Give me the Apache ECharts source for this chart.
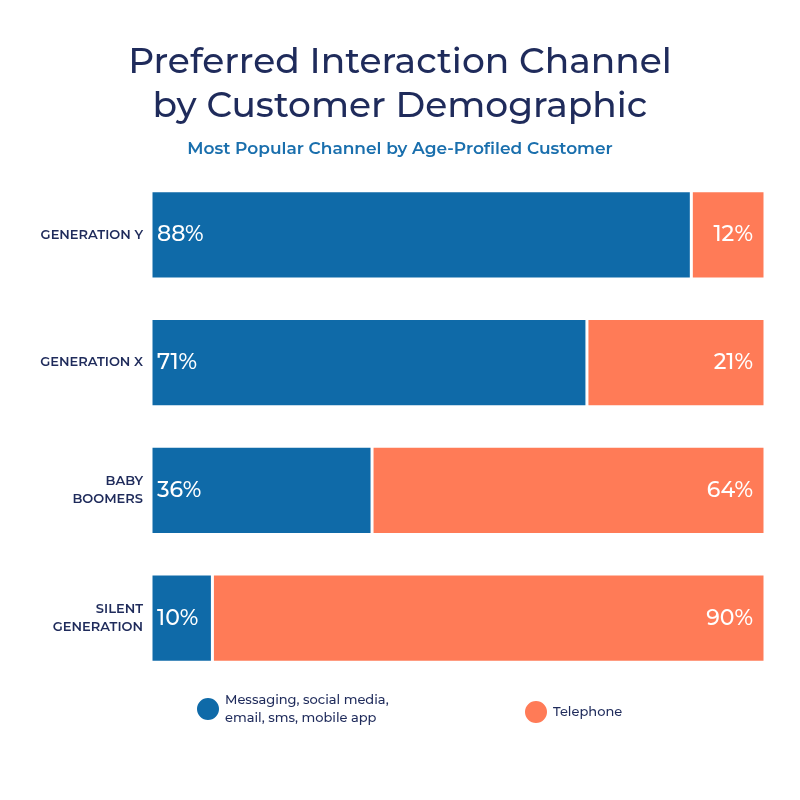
<!DOCTYPE html>
<html>
<head>
<meta charset="utf-8">
<script src="https://cdn.jsdelivr.net/npm/echarts@6/dist/echarts.min.js"></script>
<style>body{margin:0;background:#fff}#chart{width:800px;height:800px}</style>
</head>
<body>
<div id="chart"></div>
<script>
var categories = ['GENERATION Y', 'GENERATION X', 'BABY\nBOOMERS', 'SILENT\nGENERATION'];
var messaging = [88, 71, 36, 10];
// bar lengths as drawn in the picture (orange fills the rest of each bar)
var telephone = [12, 29, 64, 90];
// percentages printed on the orange bars
var telephoneLabels = [12, 21, 64, 90];

var myChart = echarts.init(document.getElementById('chart'));
var font = 'Montserrat, "Open Sans", sans-serif';
var option = {
    title: [{
        text: 'Preferred Interaction Channel\nby Customer Demographic',
        left: 'center',
        top: 35,
        textStyle: {fontSize: 36, fontWeight: 500, color: '#1f2b5b', lineHeight: 44, fontFamily: font}
    }, {
        text: 'Most Popular Channel by Age-Profiled Customer',
        left: 'center',
        top: 135,
        textStyle: {fontSize: 17, fontWeight: 600, color: '#1a6fad', fontFamily: font}
    }],
    legend: [{
        data: ['Messaging, social media,\nemail, sms, mobile app'],
        left: 190, top: 686,
        icon: 'circle', itemWidth: 24, itemHeight: 24, itemGap: 12,
        textStyle: {fontSize: 13, fontWeight: 500, color: '#1f2b5b', lineHeight: 18, fontFamily: font}
    }, {
        data: ['Telephone'],
        left: 518, top: 694,
        icon: 'circle', itemWidth: 24, itemHeight: 24,
        textStyle: {fontSize: 13, fontWeight: 500, color: '#1f2b5b', fontFamily: font}
    }],
    grid: {left: 151, right: 35, top: 171, bottom: 118},
    xAxis: {type: 'value', min: 0, max: 100, show: false},
    yAxis: {
        type: 'category',
        inverse: true,
        data: categories,
        axisLine: {show: false},
        axisTick: {show: false},
        axisLabel: {fontSize: 13, fontWeight: 600, color: '#1f2b5b', align: 'right', margin: 8, lineHeight: 18, fontFamily: font}
    },
    series: [{
        name: 'Messaging, social media,\nemail, sms, mobile app',
        type: 'bar',
        stack: 'total',
        data: messaging,
        barCategoryGap: '31%',
        itemStyle: {color: '#0f6aa8', borderColor: '#fff', borderWidth: 1.5},
        label: {show: true, position: 'insideLeft', formatter: '{c}%', color: '#fff', fontSize: 22, fontWeight: 500, fontFamily: font, distance: 6}
    }, {
        name: 'Telephone',
        type: 'bar',
        stack: 'total',
        data: telephone,
        itemStyle: {color: '#ff7b57', borderColor: '#fff', borderWidth: 1.5},
        label: {
            show: true, position: 'insideRight', color: '#fff', fontSize: 22, fontWeight: 500, fontFamily: font, distance: 12,
            formatter: function (p) { return telephoneLabels[p.dataIndex] + '%'; }
        }
    }]
};
myChart.setOption(option, true);
</script>
</body>
</html>
